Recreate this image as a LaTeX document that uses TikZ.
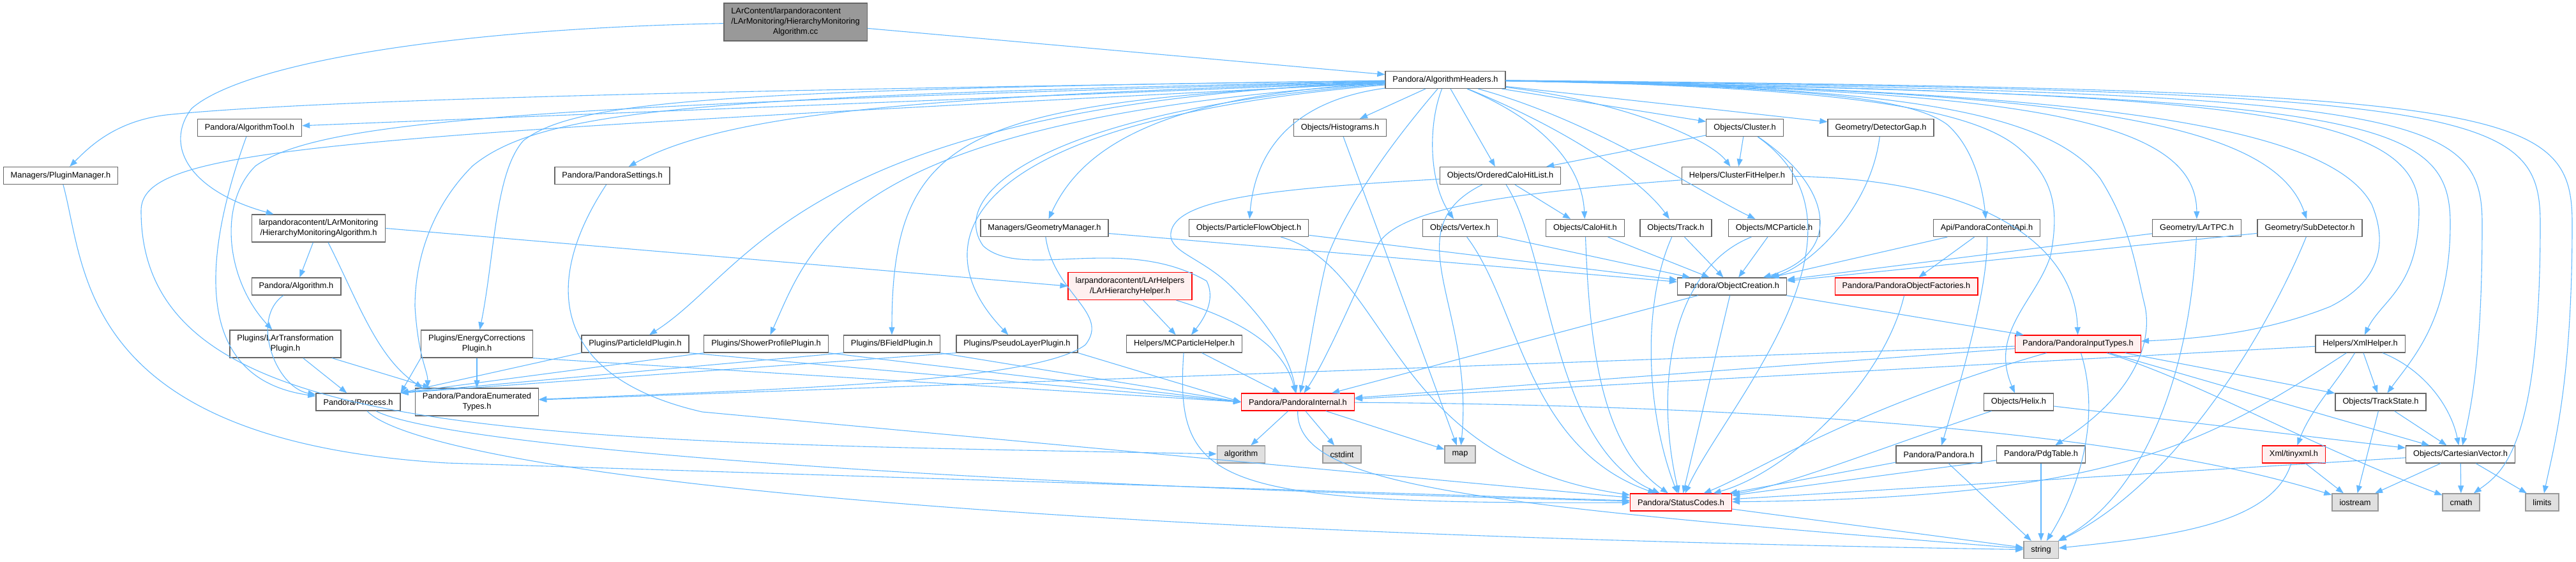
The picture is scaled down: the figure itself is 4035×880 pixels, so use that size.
\documentclass[tikz,border=0pt]{standalone}
\usepackage{fontspec}
\setmainfont{Liberation Sans}
\usepackage{tikz}
\usetikzlibrary{arrows.meta}
\definecolor{edgeblue}{HTML}{63B8FF}
\definecolor{boxgray}{HTML}{666666}
\definecolor{sysgray}{HTML}{999999}
\definecolor{sysfill}{HTML}{E0E0E0}
\definecolor{rootfill}{HTML}{999999}
\definecolor{warnfill}{HTML}{FFF0F0}
\newcommand{\hdrfont}{\fontsize{12.8}{16}\selectfont}

\begin{document}
\begin{tikzpicture}[x=1pt, y=-1pt,
  hdr/.style={draw=boxgray, fill=white, line width=1.3pt, inner xsep=11.5pt,
    inner ysep=0pt, minimum height=27pt, align=center, font=\hdrfont},
  twoline/.style={minimum height=43pt},
  incomplete/.style={hdr, draw=red, fill=warnfill},
  sys/.style={hdr, draw=sysgray, fill=sysfill},
  dep/.style={draw=edgeblue, line width=1.1pt, -{Triangle[length=12pt,width=9pt]}}]
  \useasboundingbox (0,0) rectangle (4035,880);

  % the file itself
  \node[hdr, fill=rootfill, minimum height=59pt] (root) at (1246,34.5)
    {\rlap{LArContent/larpandoracontent}\phantom{/LArMonitoring/HierarchyMonitoring}\\/LArMonitoring/HierarchyMonitoring\\Algorithm.cc};

  % first level
  \node[hdr] (algHdr) at (2264,125) {Pandora/AlgorithmHeaders.h};
  \node[hdr, twoline] (hierMon) at (499,357.5) {larpandoracontent/LArMonitoring\\/HierarchyMonitoringAlgorithm.h};

  % headers pulled in by AlgorithmHeaders.h
  \node[hdr] (pluginMgr) at (95,275) {Managers/PluginManager.h};
  \node[hdr] (algTool) at (391,200) {Pandora/AlgorithmTool.h};
  \node[hdr] (pandSettings) at (959,275) {Pandora/PandoraSettings.h};
  \node[hdr] (histograms) at (2099,200) {Objects/Histograms.h};
  \node[hdr] (orderedCHL) at (2350,275) {Objects/OrderedCaloHitList.h};
  \node[hdr] (cluster) at (2733,200) {Objects/Cluster.h};
  \node[hdr] (clusterFit) at (2721,275) {Helpers/ClusterFitHelper.h};
  \node[hdr] (detGap) at (2946,200) {Geometry/DetectorGap.h};
  \node[hdr] (geomMgr) at (1636,357) {Managers/GeometryManager.h};
  \node[hdr] (pfo) at (1956,357) {Objects/ParticleFlowObject.h};
  \node[hdr] (vertex) at (2287,357) {Objects/Vertex.h};
  \node[hdr] (caloHit) at (2483,357) {Objects/CaloHit.h};
  \node[hdr] (track) at (2625,357) {Objects/Track.h};
  \node[hdr] (mcParticle) at (2779,357) {Objects/MCParticle.h};
  \node[hdr] (contentApi) at (3112,357) {Api/PandoraContentApi.h};
  \node[hdr] (larTPC) at (3441,357) {Geometry/LArTPC.h};
  \node[hdr] (subDet) at (3618,357) {Geometry/SubDetector.h};
  \node[hdr] (algo) at (464,448.5) {Pandora/Algorithm.h};
  \node[incomplete, twoline] (larHier) at (1770,448) {larpandoracontent/LArHelpers\\/LArHierarchyHelper.h};
  \node[hdr] (objCreation) at (2713,448.5) {Pandora/ObjectCreation.h};
  \node[incomplete] (objFactories) at (2986,448.5) {Pandora/PandoraObjectFactories.h};

  % plugins row
  \node[hdr, twoline] (larTransf) at (447,538.5) {Plugins/LArTransformation\\Plugin.h};
  \node[hdr, twoline] (energyCorr) at (747,538.5) {Plugins/EnergyCorrections\\Plugin.h};
  \node[hdr] (particleId) at (995,538.5) {Plugins/ParticleIdPlugin.h};
  \node[hdr] (showerProf) at (1200,538.5) {Plugins/ShowerProfilePlugin.h};
  \node[hdr] (bField) at (1397,538.5) {Plugins/BFieldPlugin.h};
  \node[hdr] (pseudoLayer) at (1593,538.5) {Plugins/PseudoLayerPlugin.h};
  \node[hdr] (mcpHelper) at (1855,538.5) {Helpers/MCParticleHelper.h};
  \node[incomplete] (inputTypes) at (3255,538.5) {Pandora/PandoraInputTypes.h};
  \node[hdr] (xmlHelper) at (3697,538.5) {Helpers/XmlHelper.h};

  % lower rows
  \node[hdr] (process) at (561,629.5) {Pandora/Process.h};
  \node[hdr, twoline] (enumTypes) at (747,629.5) {Pandora/PandoraEnumerated\\Types.h};
  \node[incomplete] (pandInternal) at (2033,629.5) {Pandora/PandoraInternal.h};
  \node[hdr] (helix) at (3162,629.5) {Objects/Helix.h};
  \node[hdr] (trackState) at (3729,629.5) {Objects/TrackState.h};
  \node[hdr] (pandoraH) at (3037,711.5) {Pandora/Pandora.h};
  \node[hdr] (pdgTable) at (3197,711.5) {Pandora/PdgTable.h};
  \node[incomplete] (tinyxml) at (3593,711.5) {Xml/tinyxml.h};
  \node[hdr] (cartVec) at (3854,711.5) {Objects/CartesianVector.h};
  \node[incomplete] (statusCodes) at (2633,786.5) {Pandora/StatusCodes.h};

  % system headers
  \node[sys] (sysAlgorithm) at (1944,711.5) {algorithm};
  \node[sys] (sysCstdint) at (2102,711.5) {cstdint};
  \node[sys] (sysMap) at (2287,711.5) {map};
  \node[sys] (sysIostream) at (3689,786.5) {iostream};
  \node[sys] (sysCmath) at (3855,786.5) {cmath};
  \node[sys] (sysLimits) at (3982,786.5) {limits};
  \node[sys] (sysString) at (3197,861) {string};

  % root includes
  \draw[dep] (root) -- (algHdr);
  \draw[dep] (root) .. controls (700,45) and (380,100) .. (300,170)
    .. controls (255,230) and (300,300) .. ([xshift=35pt]hierMon.north west);
  \draw[dep] (hierMon) -- (algo);
  \draw[dep] (hierMon.east) -- (larHier.west);
  \draw[dep] ([xshift=15pt]hierMon.south) .. controls (560,470) and (590,560) .. ([xshift=12pt]enumTypes.north west);
  \draw[dep] (algo) to[out=-145,in=170] (process);
  \draw[dep] (algTool) to[out=-110,in=172,looseness=1.2] (process);
  \draw[dep] (pluginMgr) .. controls (135,420) and (120,690) .. (700,725) -- (statusCodes);

  % AlgorithmHeaders.h, left fan
  \draw[dep] (algHdr) .. controls (1200,140) and (500,155) .. (260,180)
    .. controls (180,190) and (140,230) .. (pluginMgr);
  \draw[dep] (algHdr) -- (algTool);
  \draw[dep] (algHdr) .. controls (1500,150) and (1150,170) .. (pandSettings);
  \draw[dep] (algHdr) .. controls (1100,140) and (900,160) .. (820,220)
    .. controls (775,270) and (775,400) .. (energyCorr);
  \draw[dep] (algHdr) .. controls (800,165) and (500,190) .. (400,260)
    .. controls (340,320) and (355,440) .. (larTransf);
  \draw[dep] (algHdr) .. controls (500,215) and (221,230) .. (221,330)
    .. controls (221,690) and (800,690) .. (sysAlgorithm);
  \draw[dep] (algHdr) .. controls (1100,150) and (850,170) .. (740,260)
    .. controls (680,320) and (650,400) .. (650,480)
    .. controls (655,560) and (670,580) .. ([xshift=20pt]enumTypes.north west);
  \draw[dep] (algHdr) .. controls (1250,165) and (1180,420) .. (particleId);
  \draw[dep] (algHdr) .. controls (1320,185) and (1272,380) .. (showerProf);
  \draw[dep] (algHdr) .. controls (1520,160) and (1397,200) .. (bField);
  \draw[dep] (algHdr) .. controls (1500,190) and (1440,380) .. (pseudoLayer);
  \draw[dep] (algHdr) .. controls (1800,150) and (1690,240) .. (geomMgr);
  \draw[dep] (algHdr) .. controls (2010,160) and (1965,250) .. (pfo);
  \draw[dep] (algHdr) .. controls (1650,170) and (1480,300) .. (1540,385)
    .. controls (1600,440) and (1760,365) .. (1890,440)
    .. controls (1905,470) and (1885,500) .. (mcpHelper);
  \draw[dep] (algHdr) .. controls (2200,200) and (2120,300) .. (2080,400)
    .. controls (2060,480) and (2050,560) .. (pandInternal);

  % AlgorithmHeaders.h, middle
  \draw[dep] (algHdr) -- (histograms);
  \draw[dep] (algHdr) -- (orderedCHL);
  \draw[dep] (algHdr) .. controls (2235,200) and (2240,290) .. (vertex);
  \draw[dep] (algHdr) .. controls (2420,190) and (2478,260) .. (caloHit);
  \draw[dep] (algHdr) .. controls (2450,200) and (2570,280) .. (track);
  \draw[dep] (algHdr) -- (cluster);
  \draw[dep] (algHdr) .. controls (2550,160) and (2680,220) .. (clusterFit);
  \draw[dep] (algHdr) -- (detGap);
  \draw[dep] (algHdr) .. controls (2500,190) and (2660,300) .. (mcParticle);

  % AlgorithmHeaders.h, right fan
  \draw[dep] (algHdr) .. controls (2800,135) and (2990,150) .. (3050,195)
    .. controls (3090,230) and (3105,290) .. (contentApi);
  \draw[dep] (algHdr) .. controls (2850,135) and (3080,165) .. (3160,230)
    .. controls (3220,280) and (3225,330) .. (3212,400)
    .. controls (3190,470) and (3115,520) .. (helix);
  \draw[dep] (algHdr) .. controls (2900,135) and (3200,160) .. (3290,280)
    .. controls (3340,360) and (3345,420) .. (3360,480)
    .. controls (3372,540) and (3340,620) .. (pdgTable);
  \draw[dep] (algHdr) .. controls (3150,140) and (3440,180) .. (larTPC);
  \draw[dep] (algHdr) .. controls (3250,140) and (3560,190) .. (subDet);
  \draw[dep] (algHdr) .. controls (3300,140) and (3650,200) .. (3715,320)
    .. controls (3740,380) and (3730,440) .. (3650,480)
    .. controls (3550,520) and (3450,530) .. (inputTypes);
  \draw[dep] (algHdr) .. controls (3500,145) and (3789,170) .. (3789,330)
    .. controls (3789,450) and (3730,470) .. (xmlHelper);
  \draw[dep] (algHdr) .. controls (3700,150) and (3838,180) .. (3838,350)
    .. controls (3838,500) and (3780,560) .. (trackState);
  \draw[dep] (algHdr) .. controls (3780,145) and (3888,175) .. (3888,350)
    .. controls (3888,560) and (3870,640) .. (cartVec);
  \draw[dep] (algHdr) .. controls (3880,142) and (3979,170) .. (3979,350)
    .. controls (3979,700) and (3920,740) .. (sysCmath);
  \draw[dep] (algHdr) .. controls (3930,140) and (4029,165) .. (4029,350)
    .. controls (4029,600) and (4000,700) .. (sysLimits);

  % object headers
  \draw[dep] (cluster) -- (orderedCHL);
  \draw[dep] (cluster) -- (clusterFit);
  \draw[dep] (cluster) .. controls (2880,300) and (2880,400) .. (objCreation);
  \draw[dep] (cluster) .. controls (2960,360) and (2700,640) .. (statusCodes);
  \draw[dep] (orderedCHL) -- (caloHit);
  \draw[dep] (orderedCHL) .. controls (2180,360) and (2310,480) .. (sysMap);
  \draw[dep] (orderedCHL) .. controls (2430,400) and (2430,700) .. (statusCodes);
  \draw[dep] (orderedCHL) .. controls (2000,295) and (1850,310) .. (1835,360)
    .. controls (1825,395) and (1880,400) .. (1930,450)
    .. controls (1990,510) and (2020,560) .. (pandInternal);
  \draw[dep] (histograms) -- (sysMap);
  \draw[dep] (vertex) -- (objCreation);
  \draw[dep] (vertex) .. controls (2380,480) and (2390,700) .. (statusCodes);
  \draw[dep] (caloHit) -- (objCreation);
  \draw[dep] (caloHit) .. controls (2490,550) and (2510,700) .. (statusCodes);
  \draw[dep] (track) -- (objCreation);
  \draw[dep] (track) .. controls (2570,480) and (2580,650) .. (statusCodes);
  \draw[dep] (mcParticle) -- (objCreation);
  \draw[dep] (mcParticle) .. controls (2620,420) and (2590,600) .. (statusCodes);
  \draw[dep] (pfo) -- (objCreation);
  \draw[dep] (pfo) .. controls (2180,420) and (2170,720) .. (statusCodes);
  \draw[dep] (geomMgr) -- (objCreation);
  \draw[dep] (geomMgr) .. controls (1650,460) and (1740,490) .. (1700,540)
    .. controls (1620,600) and (1200,610) .. (enumTypes);
  \draw[dep] (detGap) .. controls (2930,330) and (2830,420) .. (objCreation);
  \draw[dep] (clusterFit) .. controls (2400,300) and (2200,320) .. (2160,380)
    .. controls (2130,440) and (2080,560) .. (pandInternal);
  \draw[dep] (clusterFit) .. controls (3100,280) and (3250,380) .. (inputTypes);
  \draw[dep] (objCreation) -- (pandInternal);
  \draw[dep] (objCreation) -- (inputTypes);
  \draw[dep] (objCreation) -- (statusCodes);
  \draw[dep] (contentApi) -- (objCreation);
  \draw[dep] (contentApi) -- (objFactories);
  \draw[dep] (contentApi) .. controls (3115,450) and (3070,600) .. (pandoraH);
  \draw[dep] (objFactories) .. controls (2950,600) and (2800,740) .. (statusCodes);
  \draw[dep] (larTPC) -- (objCreation);
  \draw[dep] (larTPC) .. controls (3430,600) and (3350,780) .. (sysString);
  \draw[dep] (subDet) -- (objCreation);
  \draw[dep] (subDet) .. controls (3560,500) and (3420,750) .. (sysString);

  % helpers
  \draw[dep] (larHier) -- (mcpHelper);
  \draw[dep] (larHier) .. controls (1940,500) and (2010,540) .. (pandInternal);
  \draw[dep] (mcpHelper) -- (pandInternal);
  \draw[dep] (mcpHelper) .. controls (1840,760) and (1900,790) .. (statusCodes);

  % plugins
  \draw[dep] (larTransf) -- (process);
  \draw[dep] (larTransf) -- (enumTypes);
  \draw[dep] (energyCorr.south west) -- (process.north east);
  \draw[dep] (energyCorr) -- (enumTypes);
  \draw[dep] (energyCorr.south east) -- (pandInternal.west);
  \foreach \plug in {particleId,showerProf,bField,pseudoLayer}{
    \draw[dep] (\plug.south west) -- (process.north east);
    \draw[dep] (\plug.south east) -- (pandInternal.west);
  }
  \draw[dep] (process) .. controls (700,700) and (1500,760) .. (statusCodes);
  \draw[dep] (process) .. controls (650,720) and (1300,830) .. (sysString);
  \draw[dep] (pandSettings) .. controls (850,440) and (860,590) .. (1100,645) -- (statusCodes);

  % PandoraInternal.h and below
  \draw[dep] (pandInternal) -- (sysAlgorithm);
  \draw[dep] (pandInternal) -- (sysCstdint);
  \draw[dep] (pandInternal) -- (sysMap);
  \draw[dep] (pandInternal) .. controls (2030,760) and (2300,790) .. (sysString);
  \draw[dep] (pandInternal) .. controls (2800,635) and (3350,680) .. (sysIostream);
  \draw[dep] (statusCodes) -- (sysString);
  \draw[dep] (inputTypes) -- (enumTypes);
  \draw[dep] (inputTypes) -- (pandInternal);
  \draw[dep] (inputTypes) .. controls (2900,640) and (2750,740) .. (statusCodes);
  \draw[dep] (inputTypes) .. controls (3290,650) and (3260,760) .. (sysString);
  \draw[dep] (inputTypes) -- (trackState);
  \draw[dep] (inputTypes) -- (cartVec);
  \draw[dep] (inputTypes) .. controls (3450,600) and (3600,690) .. (sysCmath);
  \draw[dep] (xmlHelper) -- (pandInternal);
  \draw[dep] (xmlHelper) .. controls (3450,700) and (3300,780) .. (statusCodes);
  \draw[dep] (xmlHelper) -- (trackState);
  \draw[dep] (xmlHelper) .. controls (3800,580) and (3840,640) .. (cartVec);
  \draw[dep] (xmlHelper) .. controls (3660,600) and (3620,640) .. (tinyxml);
  \draw[dep] (trackState) -- (cartVec);
  \draw[dep] (trackState) -- (sysIostream);
  \draw[dep] (cartVec) -- (statusCodes);
  \draw[dep] (cartVec) -- (sysIostream);
  \draw[dep] (cartVec) -- (sysCmath);
  \draw[dep] (cartVec) -- (sysLimits);
  \draw[dep] (tinyxml) -- (sysIostream);
  \draw[dep] (tinyxml) .. controls (3560,820) and (3400,840) .. (sysString);
  \draw[dep] (helix) .. controls (2950,700) and (2800,760) .. (statusCodes);
  \draw[dep] (helix) -- (cartVec);
  \draw[dep] (pandoraH) -- (statusCodes);
  \draw[dep] (pandoraH) -- (sysString);
  \draw[dep] (pdgTable) -- (statusCodes);
  \draw[dep] (pdgTable) -- (sysString);
\end{tikzpicture}
\end{document}
